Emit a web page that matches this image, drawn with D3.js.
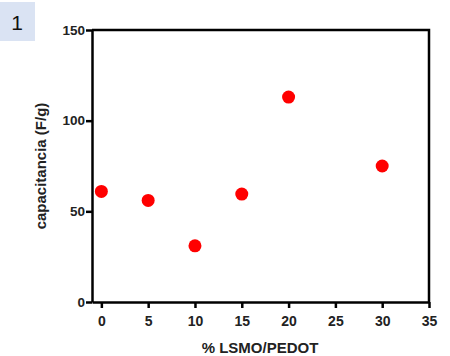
<!DOCTYPE html>
<html>
<head>
<meta charset="utf-8">
<script src="https://cdn.jsdelivr.net/npm/d3@7"></script>
<style>
  body { margin: 0; background: #fff; }
  svg { display: block; font-family: "Liberation Sans", Arial, sans-serif; }
</style>
</head>
<body>
<script>
// data
const pctLSMO = [0, 5, 10, 15, 20, 30];
const capacitancia = [61, 56, 31, 59.5, 113, 75];
const xTicks = [0, 5, 10, 15, 20, 25, 30, 35];
const yTicks = [0, 50, 100, 150];

const width = 450, height = 356;
const marginLeft = 92, marginRight = 21, marginTop = 30, marginBottom = 54;

const svg = d3.select("body").append("svg")
    .attr("width", width)
    .attr("height", height);

// panel label
svg.append("rect")
    .attr("x", 0).attr("y", 2)
    .attr("width", 35).attr("height", 39)
    .attr("fill", "#dae3f3");
svg.append("text")
    .attr("x", 17).attr("y", 30)
    .attr("text-anchor", "middle")
    .attr("font-size", 21)
    .attr("fill", "#111")
    .text("1");

const x = d3.scaleLinear()
    .domain([-1, 35])
    .range([marginLeft, width - marginRight]);

const y = d3.scaleLinear()
    .domain([0, 150])
    .range([height - marginBottom, marginTop]);

// frame (top and right)
svg.append("path")
    .attr("fill", "none")
    .attr("stroke", "#000")
    .attr("stroke-width", 2.5)
    .attr("d", `M${x(-1)},${y(150)}H${x(35)}V${y(0)}`);

// x axis
svg.append("g")
    .attr("transform", `translate(0,${y(0)})`)
    .call(d3.axisBottom(x).tickValues(xTicks).tickSize(6).tickSizeOuter(0))
    .call(g => g.select(".domain").attr("stroke-width", 2.5))
    .call(g => g.selectAll(".tick line").attr("stroke-width", 2.5))
    .call(g => g.selectAll(".tick text")
        .attr("font-size", 14).attr("font-weight", "bold")
        .attr("fill", "#222").attr("dy", "1.1em").attr("font-family", null));

// y axis
svg.append("g")
    .attr("transform", `translate(${x(-1)},0)`)
    .call(d3.axisLeft(y).tickValues(yTicks).tickSize(6).tickSizeOuter(0))
    .call(g => g.select(".domain").attr("stroke-width", 2.5))
    .call(g => g.selectAll(".tick line").attr("stroke-width", 2.5))
    .call(g => g.selectAll(".tick text")
        .attr("font-size", 13.5).attr("font-weight", "bold")
        .attr("fill", "#222").attr("x", -7).attr("font-family", null));

// axis titles
svg.append("text")
    .attr("x", 260).attr("y", 353)
    .attr("text-anchor", "middle")
    .attr("font-size", 15).attr("font-weight", "bold")
    .attr("fill", "#222")
    .text("% LSMO/PEDOT");

svg.append("text")
    .attr("transform", `translate(46,${166}) rotate(-90)`)
    .attr("text-anchor", "middle")
    .attr("font-size", 15).attr("font-weight", "bold")
    .attr("fill", "#222")
    .text("capacitancia (F/g)");

// points
svg.append("g")
    .attr("fill", "#ff0000")
    .selectAll("circle")
    .data(pctLSMO)
    .join("circle")
    .attr("cx", d => x(d))
    .attr("cy", (d, i) => y(capacitancia[i]))
    .attr("r", 6.5);
</script>
</body>
</html>
